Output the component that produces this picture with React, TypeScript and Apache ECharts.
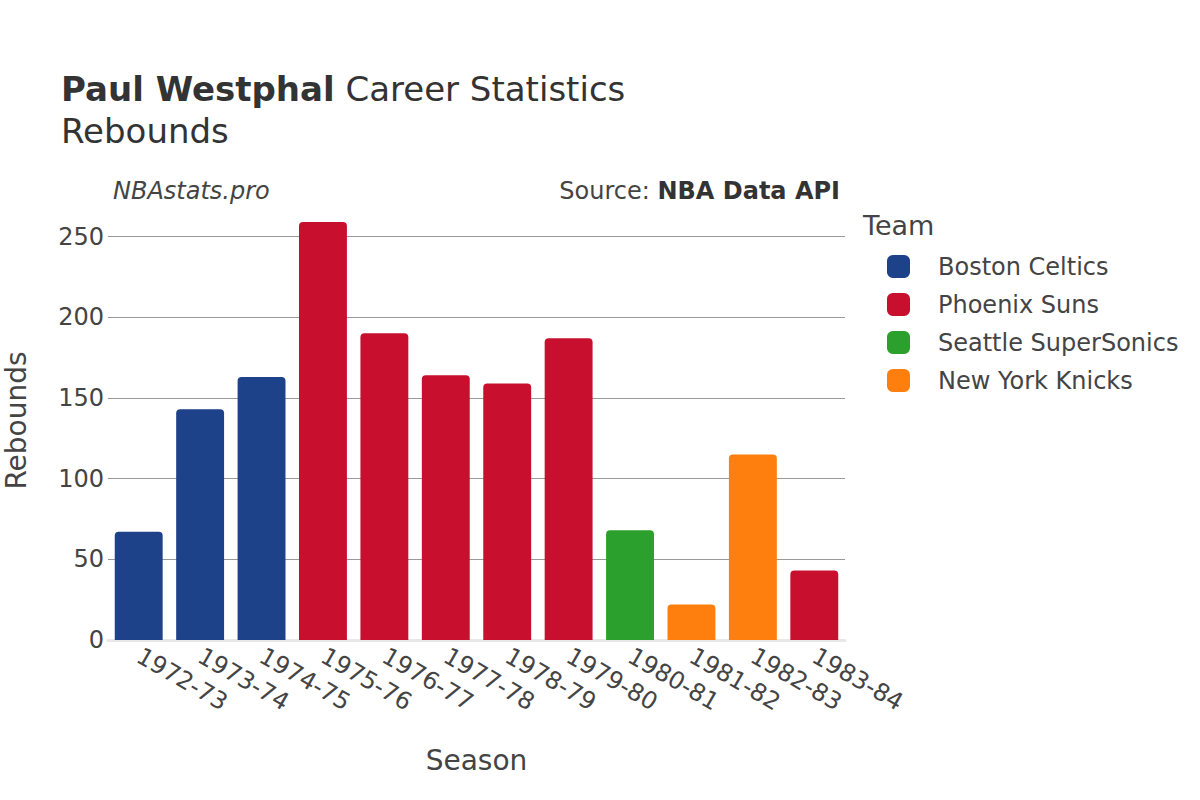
import React, { useEffect, useRef } from "react";
import * as echarts from "echarts";

const seasons = ["1972-73", "1973-74", "1974-75", "1975-76", "1976-77", "1977-78", "1978-79", "1979-80", "1980-81", "1981-82", "1982-83", "1983-84"];
const seasonTeams = ["Boston Celtics", "Boston Celtics", "Boston Celtics", "Phoenix Suns", "Phoenix Suns", "Phoenix Suns", "Phoenix Suns", "Phoenix Suns", "Seattle SuperSonics", "New York Knicks", "New York Knicks", "Phoenix Suns"];
const rebounds = [67, 143, 163, 259, 190, 164, 159, 187, 68, 22, 115, 43];
const teams = ["Boston Celtics", "Phoenix Suns", "Seattle SuperSonics", "New York Knicks"];
const teamColors = ["#1d428a", "#c8102e", "#2ca02c", "#ff7f0e"];
const yTicks = [0, 50, 100, 150, 200, 250];

const FONT = "DejaVu Sans";

export default function App() {
  const ref = useRef<HTMLDivElement>(null);
  useEffect(() => {
    if (!ref.current) return;
    const chart = echarts.init(ref.current, null, { renderer: "svg" });
    const series = teams.map((team, ti) => ({
      name: team,
      type: "bar",
      stack: "total",
      barCategoryGap: "22%",
      itemStyle: { color: teamColors[ti], borderRadius: [4, 4, 0, 0] },
      data: seasons.map((s, i) => (seasonTeams[i] === team ? rebounds[i] : "-")),
    }));
    chart.setOption({
      animation: false,
      textStyle: { fontFamily: FONT, color: "#444" },
      title: {
        text: "{b|Paul Westphal} Career Statistics\nRebounds",
        left: 61,
        top: 68,
        padding: 0,
        textStyle: {
          fontFamily: FONT,
          fontSize: 34,
          fontWeight: "normal",
          color: "#333",
          lineHeight: 42,
          rich: { b: { fontFamily: FONT, fontSize: 34, fontWeight: "bold", color: "#333", lineHeight: 42 } },
        },
      },
      graphic: [
        { type: "text", left: 113, top: 179, style: { text: "NBAstats.pro", fontFamily: FONT, fontSize: 24, fontStyle: "italic", fill: "#444" } },
        {
          type: "text", right: 360, top: 179,
          style: {
            text: "Source: {b|NBA Data API}", fontFamily: FONT, fontSize: 24, fill: "#444",
            rich: { b: { fontFamily: FONT, fontSize: 24, fontWeight: "bold", fill: "#333" } },
          },
        },
        { type: "text", left: 863, top: 212, style: { text: "Team", fontFamily: FONT, fontSize: 27, fill: "#444" } },
      ],
      legend: {
        orient: "vertical",
        left: 887,
        top: 254.5,
        padding: 0,
        itemWidth: 23,
        itemHeight: 23,
        itemGap: 14,
        icon: "roundRect",
        data: teams,
        textStyle: { fontFamily: FONT, fontSize: 24, color: "#444", lineHeight: 23, padding: [0, 0, 0, 23] },
      },
      grid: { left: 108, right: 355, top: 201, bottom: 160, containLabel: false, outerBoundsMode: "none" },
      xAxis: {
        type: "category",
        data: seasons,
        name: "Season",
        nameLocation: "middle",
        nameGap: 106,
        nameTextStyle: { fontFamily: FONT, fontSize: 28, color: "#444" },
        axisLine: { show: true, lineStyle: { color: "#e8e8e8", width: 3 } },
        axisTick: { show: false },
        axisLabel: { rotate: -30, margin: 14, fontFamily: FONT, fontSize: 24, color: "#444", interval: 0 },
      },
      yAxis: {
        type: "value",
        min: 0,
        max: 272,
        interval: 50,
        name: "Rebounds",
        nameLocation: "middle",
        nameGap: 78,
        nameTextStyle: { fontFamily: FONT, fontSize: 28, color: "#444" },
        axisLine: { show: false },
        axisTick: { show: false },
        splitLine: { show: true, showMaxLine: false, showMinLine: false, lineStyle: { color: "#999", width: 1 } },
        axisLabel: {
          margin: 4,
          fontFamily: FONT,
          fontSize: 24,
          color: "#444",
          showMaxLabel: false,
          formatter: (v: number) => (yTicks.includes(v) ? String(v) : ""),
        },
      },
      series,
    });
    return () => chart.dispose();
  }, []);
  return <div ref={ref} style={{ position: "fixed", left: 0, top: 0, width: 1200, height: 800, background: "#fff" }} />;
}
